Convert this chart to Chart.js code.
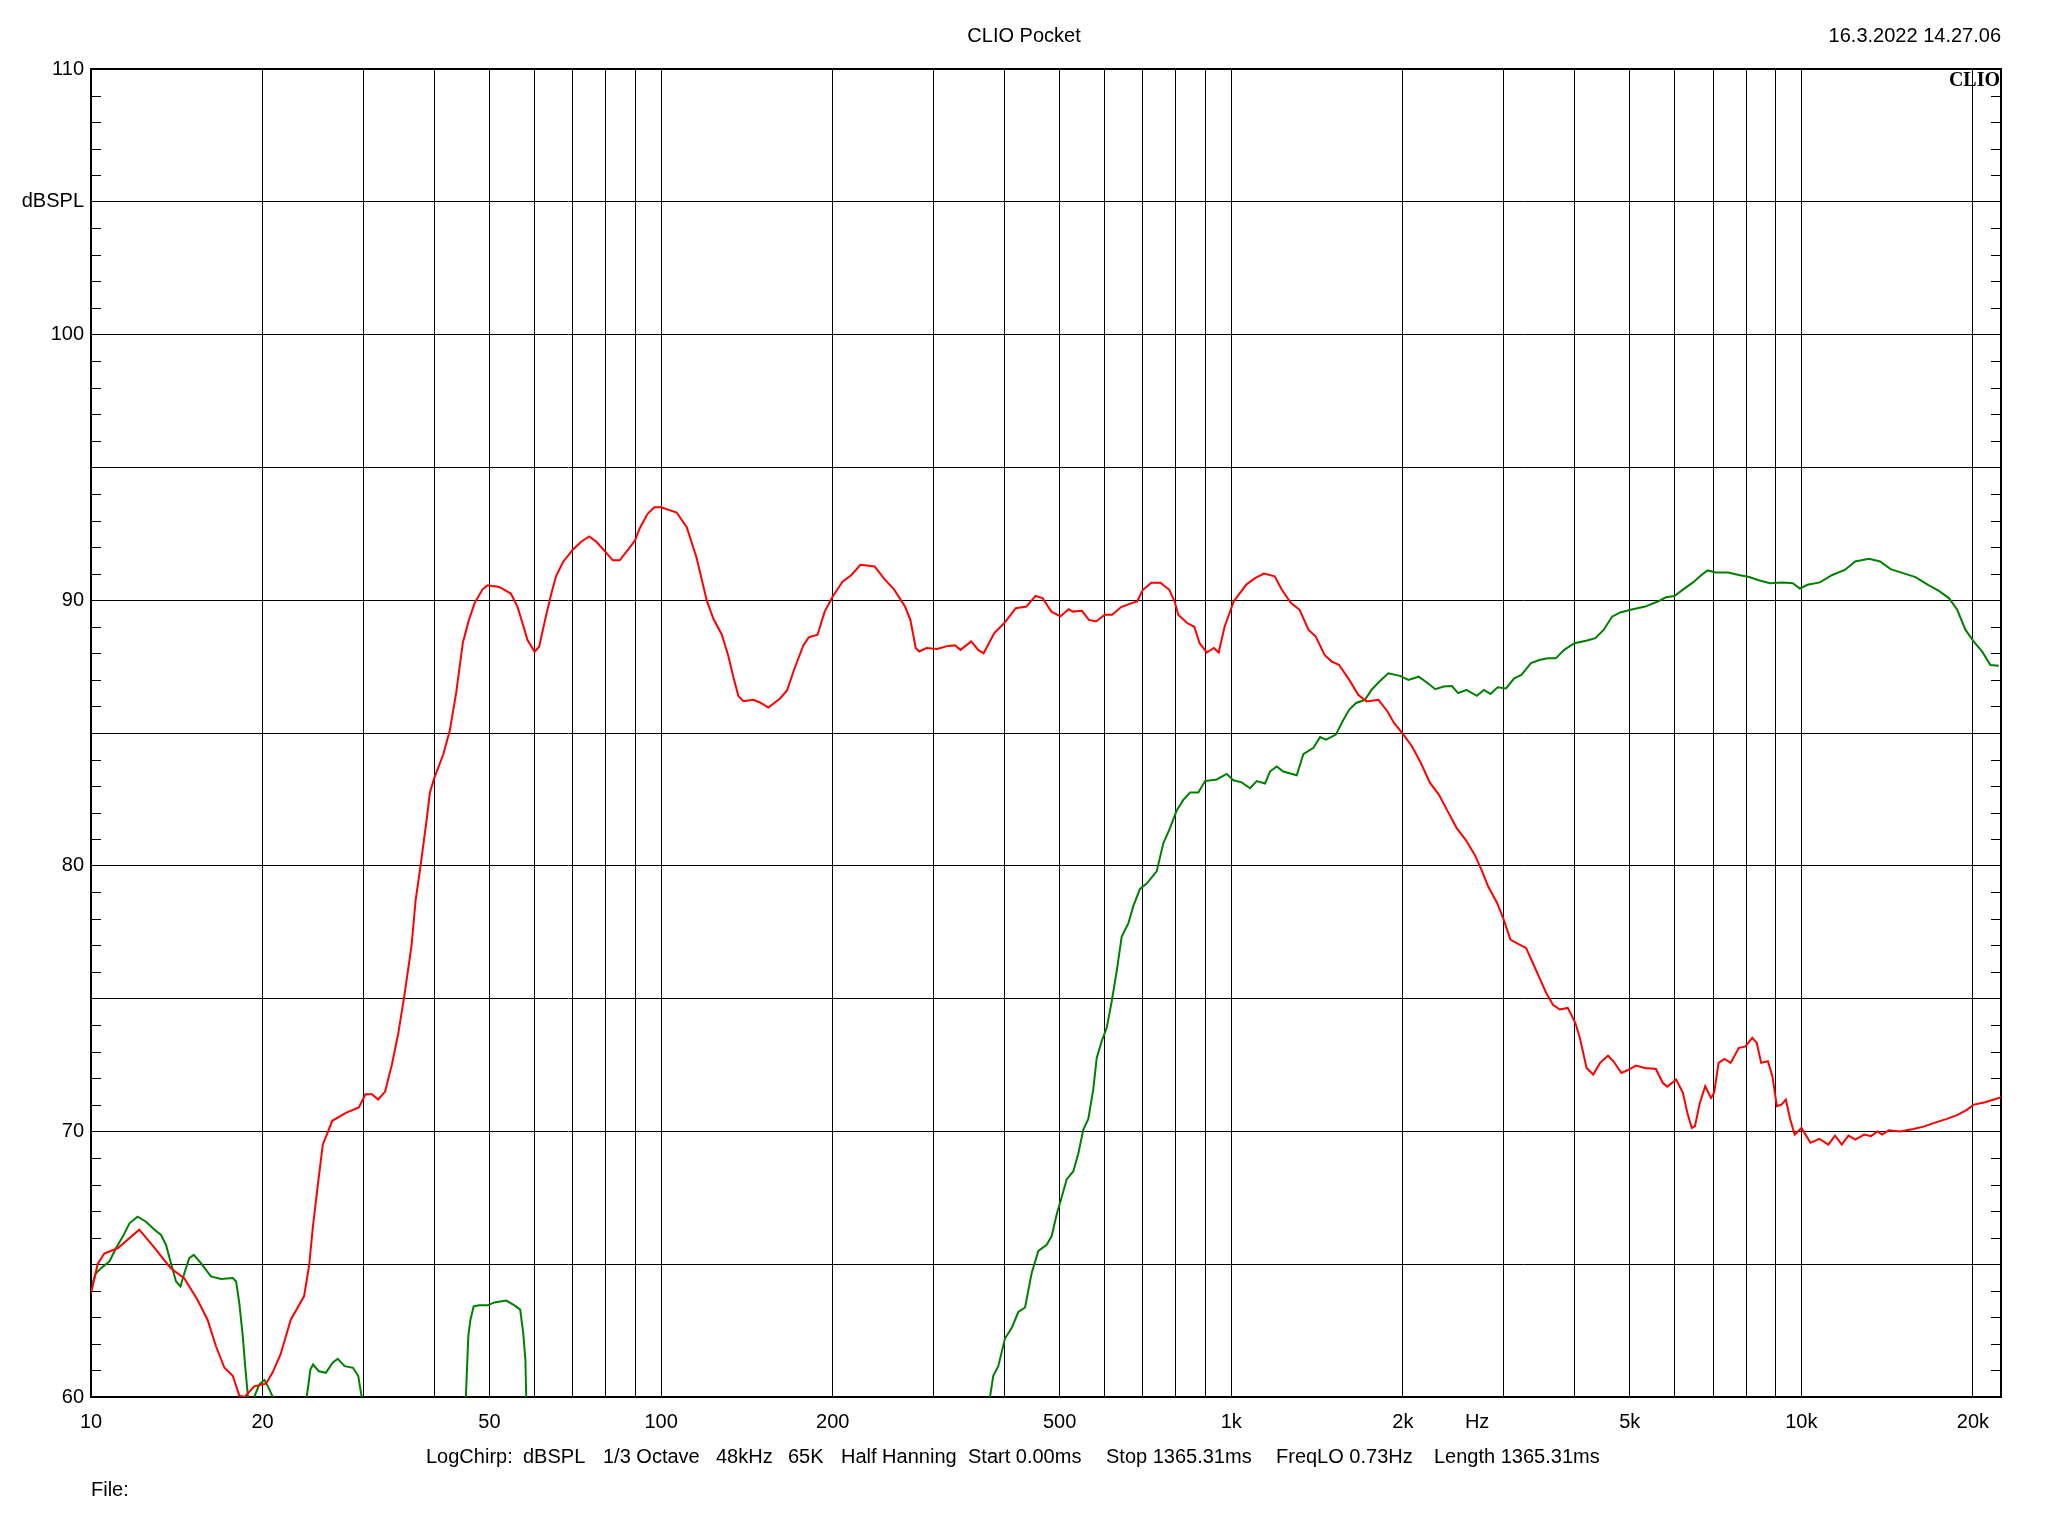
<!DOCTYPE html>
<html>
<head>
<meta charset="utf-8">
<title>CLIO Pocket</title>
<script src="https://cdn.jsdelivr.net/npm/chart.js@4.4.1/dist/chart.umd.min.js"></script>
<style>
  html, body { margin: 0; padding: 0; background: #fff; }
  canvas { display: block; }
</style>
</head>
<body>
<canvas id="clioChart" width="2048" height="1536"></canvas>
<script>
// ---- data (Hz / dBSPL) ----
const redFreq = [10, 10.27, 10.55, 11.14, 12.15, 12.83, 13.8, 14.57, 15.38, 16.02, 16.57, 17.14, 17.73, 18.2, 18.6,
  19.33, 20.27, 20.8, 21.5, 22.4, 23.65, 24.15, 24.5, 25, 25.5, 26.5, 28, 29.5, 30.3, 31.1, 31.9, 32.8, 33.7, 34.6,
  35.5, 36.5, 37.1, 37.85, 38.8, 39.3, 40, 41.5, 42.6, 43.7, 44.9, 46, 47.1, 48.6, 49.6, 52, 54.5, 56, 57.2, 58.3, 60,
  61.1, 62.8, 64.2, 65.4, 67.3, 70, 72.4, 74.8, 77, 80, 82.3, 84.6, 87.5, 90, 91.7, 94.7, 97.3, 100, 106.5, 110.9,
  115.4, 120.2, 123.5, 127.8, 131.2, 133.9, 136.6, 139.4, 145.2, 149.1, 154.2, 161.7, 166.3, 171.2, 177.6, 181.5,
  188.1, 193.6, 200, 208.1, 215.7, 223.7, 236.9, 245.7, 256.5, 267.8, 273.7, 279.6, 283.7, 292.1, 304.9, 318.5,
  327.7, 335, 349.9, 359.9, 367.9, 384.1, 400, 418.8, 437.3, 453.6, 466.7, 483.7, 501.8, 518.6, 527.6, 547, 562.9,
  579.4, 600, 618.2, 641.1, 669.4, 683.9, 700, 724.5, 751.3, 778.8, 795.8, 807.4, 836.9, 861.5, 880.2, 906.1, 932.6,
  950.5, 973.6, 1010, 1062, 1101, 1141, 1192, 1227, 1272, 1318, 1367, 1407, 1458, 1501, 1545, 1611, 1670, 1727,
  1812, 1879, 1930, 2000, 2075, 2151, 2232, 2313, 2398, 2486, 2578, 2673, 2747, 2822, 2927, 3006, 3088, 3203, 3290,
  3381, 3473, 3569, 3668, 3770, 3893, 4015, 4089, 4201, 4315, 4436, 4581, 4682, 4836, 4988, 5125, 5313, 5559, 5713,
  5818, 6032, 6198, 6310, 6425, 6508, 6637, 6783, 6944, 7031, 7160, 7330, 7518, 7766, 7982, 8203, 8353, 8503, 8737,
  8896, 9059, 9226, 9394, 9562, 9737, 10005, 10375, 10755, 11154, 11458, 11775, 12099, 12435, 12890, 13243, 13607,
  13855, 14237, 14894, 15733, 16449, 17212, 18006, 18843, 19542, 20078, 21007, 21776, 22494];
const redDb = [63.9, 65.0, 65.4, 65.6, 66.3, 65.7, 64.85, 64.47, 63.65, 62.9, 61.9, 61.1, 60.8, 60.05, 60.0,
  60.4, 60.5, 60.9, 61.6, 62.9, 63.8, 65.0, 66.4, 68.0, 69.5, 70.4, 70.7, 70.9, 71.4, 71.4, 71.2, 71.5, 72.5, 73.7,
  75.2, 77.0, 78.7, 80.0, 81.75, 82.75, 83.3, 84.2, 85.1, 86.5, 88.4, 89.25, 89.9, 90.4, 90.56, 90.5, 90.25, 89.75,
  89.1, 88.5, 88.06, 88.25, 89.4, 90.25, 90.9, 91.44, 91.9, 92.2, 92.4, 92.2, 91.8, 91.5, 91.5, 91.9, 92.25, 92.7,
  93.25, 93.5, 93.5, 93.3, 92.75, 91.6, 90.0, 89.3, 88.7, 87.9, 87.1, 86.4, 86.2, 86.25, 86.15, 85.96, 86.3, 86.6,
  87.4, 88.3, 88.6, 88.7, 89.57, 90.14, 90.7, 90.95, 91.33, 91.27, 90.83, 90.39, 89.76, 89.26, 88.2, 88.07, 88.2,
  88.16, 88.28, 88.3, 88.13, 88.45, 88.13, 88.0, 88.76, 89.14, 89.7, 89.76, 90.16, 90.08, 89.57, 89.39, 89.66,
  89.57, 89.6, 89.26, 89.2, 89.45, 89.45, 89.74, 89.89, 89.95, 90.39, 90.66, 90.66, 90.39, 89.95, 89.45, 89.14,
  89.0, 88.38, 88.03, 88.2, 88.03, 89.0, 89.95, 90.58, 90.83, 91.0, 90.9, 90.39, 89.9, 89.64, 88.88, 88.63, 87.94,
  87.69, 87.57, 87.0, 86.44, 86.19, 86.25, 85.82, 85.38, 84.97, 84.5, 83.87, 83.12, 82.68, 82.05, 81.42, 80.98,
  80.42, 79.86, 79.23, 78.6, 77.97, 77.22, 77.03, 76.91, 76.34, 75.78, 75.21, 74.77, 74.59, 74.65, 74.08, 73.52,
  72.39, 72.14, 72.58, 72.85, 72.64, 72.2, 72.33, 72.48, 72.39, 72.35, 71.83, 71.68, 71.95, 71.45, 70.7, 70.13,
  70.2, 71.07, 71.7, 71.26, 71.45, 72.58, 72.73, 72.58, 73.14, 73.2, 73.52, 73.33, 72.58, 72.64, 72.08, 70.95,
  71.01, 71.2, 70.45, 69.88, 70.13, 69.57, 69.72, 69.5, 69.84, 69.5, 69.84, 69.69, 69.88, 69.82, 70.0, 69.88,
  70.04, 70.0, 70.09, 70.19, 70.34, 70.47, 70.63, 70.82, 71.01, 71.1, 71.2, 71.3];

// green falls below 60 dB in places: null = off the bottom of the plot
const greenFreq = [10.07, 10.2, 10.48, 10.77, 11.06, 11.37, 11.68, 12.07, 12.49, 12.91, 13.27, 13.54, 13.81, 14.1,
  14.35, 14.58, 14.87, 15.14, 15.59, 16.23, 16.9, 17.73, 17.97, 18.2, 18.46, 18.64, 18.85, 19.1,
  19.33, 19.74, 20.15, 20.43, 20.84, 22,
  23.9, 24.26, 24.52, 25.1, 25.82, 26.54, 27.09, 27.85, 28.82, 29.43, 29.84, 35,
  45.45, 45.9, 46.3, 46.9, 47.9, 49.6, 51, 53.5, 55.4, 56.6, 57.3, 57.8, 58, 150,
  377.5, 382.5, 390.3, 401, 412, 423.3, 434.9, 446.7, 458.9, 474.6, 484.3, 494.2, 504.3, 514.5, 528.5, 539.3,
  550.3, 561.5, 573, 580.8, 592.7, 604.8, 617.2, 629.7, 642.6, 659.9, 673.4, 691.8, 710.8, 740, 760.1, 780.9,
  802.3, 824.1, 846.6, 875.6, 899.5, 943, 982, 1008.6, 1043, 1079, 1108.5, 1146.5, 1169.5, 1201.6, 1234, 1303,
  1338, 1394, 1432, 1467, 1526, 1568, 1611, 1656, 1716, 1763, 1818, 1886, 1977, 2045, 2132, 2204, 2280, 2358,
  2439, 2500, 2586, 2697, 2776, 2850, 2933, 3033, 3136, 3228, 3356, 3470, 3588, 3710, 3837, 4001, 4209, 4352,
  4500, 4655, 4814, 5020, 5323, 5600, 5789, 5988, 6191, 6457, 6680, 6850, 7082, 7448, 7770, 8101, 8451, 8812,
  9266, 9662, 9943, 10250, 10780, 11330, 11920, 12430, 13140, 13750, 14340, 15080, 15860, 16680, 17400, 18150,
  18770, 19410, 20070, 20750, 21460, 22200];
const greenDb = [64.3, 64.66, 64.9, 65.1, 65.6, 66.04, 66.54, 66.79, 66.6, 66.31, 66.1, 65.73, 65.04, 64.35,
  64.16, 64.66, 65.23, 65.35, 65.04, 64.54, 64.44, 64.48, 64.35, 63.54, 62.29, 61.16, 60.0, null,
  60.0, 60.48, 60.64, 60.4, 60.0, null,
  60.0, 61.04, 61.22, 60.97, 60.91, 61.29, 61.44, 61.16, 61.1, 60.79, 60.0, null,
  60.0, 62.29, 62.91, 63.41, 63.45, 63.45, 63.56, 63.63, 63.44, 63.29, 62.41, 61.41, 60.0, null,
  60.0, 60.8, 61.16, 62.2, 62.6, 63.2, 63.37, 64.67, 65.5, 65.73, 66.06, 66.88, 67.53, 68.19, 68.5, 69.17,
  70.07, 70.47, 71.6, 72.76, 73.4, 73.9, 74.9, 76.03, 77.34, 77.83, 78.48, 79.13, 79.33, 79.79, 80.85, 81.42,
  82.08, 82.48, 82.76, 82.76, 83.19, 83.25, 83.46, 83.22, 83.14, 82.92, 83.19, 83.1, 83.55, 83.74, 83.55, 83.41,
  84.2, 84.44, 84.85, 84.75, 84.94, 85.44, 85.88, 86.13, 86.25, 86.63, 86.93, 87.25, 87.15, 87.0, 87.12, 86.9,
  86.65, 86.75, 86.77, 86.5, 86.62, 86.4, 86.62, 86.47, 86.72, 86.68, 87.06, 87.19, 87.63, 87.75, 87.81, 87.81,
  88.13, 88.38, 88.48, 88.57, 88.88, 89.38, 89.54, 89.64, 89.76, 89.95, 90.11, 90.16, 90.39, 90.67, 90.95, 91.12,
  91.04, 91.04, 90.95, 90.87, 90.74, 90.64, 90.67, 90.64, 90.44, 90.58, 90.67, 90.95, 91.14, 91.46, 91.56, 91.46,
  91.17, 91.02, 90.87, 90.58, 90.36, 90.08, 89.64, 88.88, 88.44, 88.07, 87.56, 87.53];

// ---- axes ----
const xMin = 10;
const xMax = 22400;
const xGridTicks = [10, 20, 30, 40, 50, 60, 70, 80, 90, 100, 200, 300, 400, 500, 600, 700, 800, 900, 1000,
  2000, 2700, 3000, 4000, 5000, 6000, 7000, 8000, 9000, 10000, 20000];
const xTickLabels = { 10: "10", 20: "20", 50: "50", 100: "100", 200: "200", 500: "500", 1000: "1k",
  2000: "2k", 2700: "Hz", 5000: "5k", 10000: "10k", 20000: "20k" };
const unitTickHz = 2700; // "Hz" sits between 2k and 5k, no grid line there
const yMin = 60;
const yMax = 110;
const yTickLabels = { 60: "60", 70: "70", 80: "80", 90: "90", 100: "100", 105: "dBSPL", 110: "110" };

const titleText = "CLIO Pocket";
const dateText = "16.3.2022 14.27.06";
const footerParts = [
  ["LogChirp:", 426], ["dBSPL", 523], ["1/3 Octave", 603], ["48kHz", 716], ["65K", 788],
  ["Half Hanning", 841], ["Start 0.00ms", 968], ["Stop 1365.31ms", 1106], ["FreqLO 0.73Hz", 1276],
  ["Length 1365.31ms", 1434]
];

const FONT = "'Liberation Sans', Arial, sans-serif";

function toPoints(xs, ys){
  return xs.map((x, i) => ({ x: x, y: ys[i] }));
}

// frame, inside minor ticks, header/footer text and the CLIO mark
const clioDecor = {
  id: "clioDecor",
  beforeDatasetsDraw(chart){
    const { ctx, chartArea: a } = chart;
    const y = chart.scales.y;
    ctx.save();
    ctx.strokeStyle = "#000";
    ctx.lineWidth = 1;
    ctx.beginPath();
    for (let v = yMin + 1; v < yMax; v++){
      if (v % 5 === 0) continue;
      const py = Math.round(y.getPixelForValue(v)) + 0.5;
      ctx.moveTo(a.left, py); ctx.lineTo(a.left + 10, py);
      ctx.moveTo(a.right - 10, py); ctx.lineTo(a.right, py);
    }
    ctx.stroke();
    ctx.lineWidth = 2;
    ctx.strokeRect(a.left, a.top, a.right - a.left, a.bottom - a.top);
    ctx.restore();
  },
  afterDraw(chart){
    const { ctx, chartArea: a } = chart;
    ctx.save();
    ctx.fillStyle = "#000";
    ctx.font = "20px " + FONT;
    ctx.textBaseline = "middle";

    ctx.textAlign = "center";
    ctx.fillText(titleText, 1024, 36);
    ctx.textAlign = "right";
    ctx.fillText(dateText, a.right, 36);

    ctx.textAlign = "left";
    footerParts.forEach(([t, x]) => ctx.fillText(t, x, 1457));
    ctx.fillText("File:", a.left, 1490);

    ctx.font = "bold 20px 'Liberation Serif', 'DejaVu Serif', serif";
    ctx.textAlign = "right";
    ctx.textBaseline = "alphabetic";
    ctx.fillText("CLIO", a.right - 1, a.top + 17);
    ctx.restore();
  }
};

Chart.defaults.font.family = FONT;
Chart.defaults.font.size = 20;
Chart.defaults.color = "#000";

new Chart(document.getElementById("clioChart"), {
  type: "line",
  data: {
    datasets: [
      {
        label: "red",
        data: toPoints(redFreq, redDb),
        borderColor: "#ff0000",
        borderWidth: 2,
        pointRadius: 0,
        tension: 0,
        fill: false
      },
      {
        label: "green",
        data: toPoints(greenFreq, greenDb),
        borderColor: "#008000",
        borderWidth: 2,
        pointRadius: 0,
        tension: 0,
        fill: false,
        spanGaps: false
      }
    ]
  },
  options: {
    responsive: false,
    devicePixelRatio: 1,
    animation: false,
    layout: { padding: { top: 69, right: 47, left: 0, bottom: 0 } },
    plugins: {
      legend: { display: false },
      tooltip: { enabled: false },
      title: { display: false }
    },
    scales: {
      x: {
        type: "logarithmic",
        min: xMin,
        max: xMax,
        border: { display: false },
        grid: {
          drawTicks: false,
          lineWidth: 1,
          color: (c) => (c.tick && c.tick.value === unitTickHz) ? "rgba(0,0,0,0)" : "#000"
        },
        afterBuildTicks: (scale) => {
          scale.ticks = xGridTicks.map((v) => ({ value: v }));
        },
        afterFit: (scale) => { scale.height = 139; },
        ticks: {
          autoSkip: false,
          maxRotation: 0,
          minRotation: 0,
          padding: 13,
          callback: (v) => xTickLabels[v] || ""
        }
      },
      y: {
        min: yMin,
        max: yMax,
        border: { display: false },
        grid: {
          drawTicks: false,
          lineWidth: 1,
          color: (c) => (c.tick && c.tick.value % 5 === 0) ? "#000" : "rgba(0,0,0,0)"
        },
        afterFit: (scale) => { scale.width = 91; },
        ticks: {
          stepSize: 1,
          autoSkip: false,
          padding: 7,
          callback: (v) => yTickLabels[v] || ""
        }
      }
    }
  },
  plugins: [clioDecor]
});
</script>
</body>
</html>
